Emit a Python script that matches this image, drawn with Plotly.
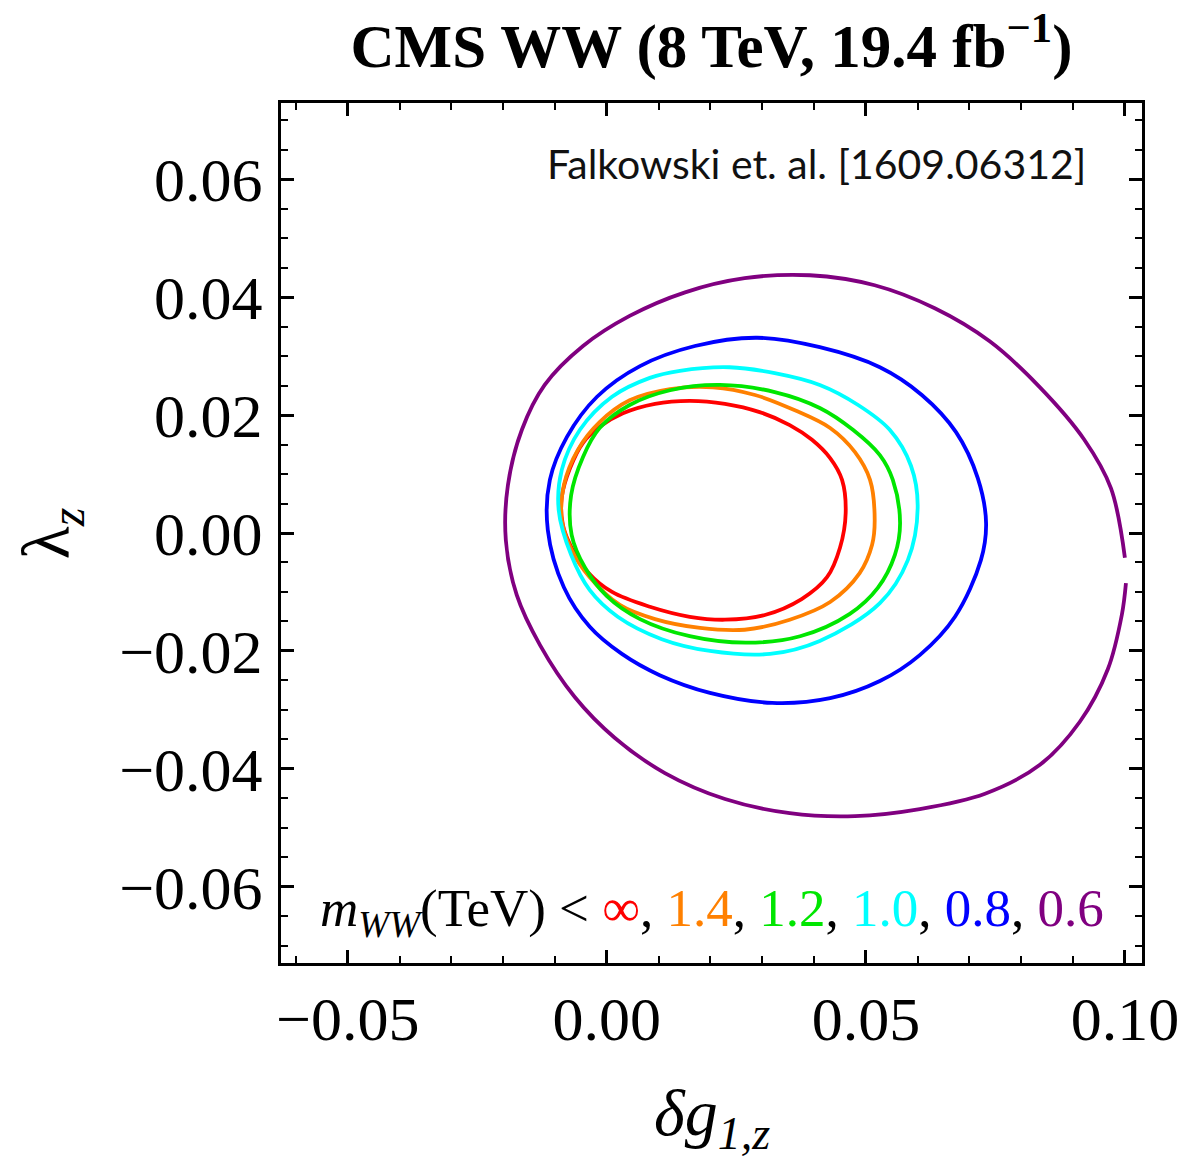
import plotly.graph_objects as go

# ---------------- data ----------------
# contours in the (delta g_1z, lambda_z) plane, one per m_WW cut
red_x = [0.0461, 0.0454, 0.0431, 0.0396, 0.0353, 0.0295, 0.0228, 0.0160, 0.0093, 0.0031,
         -0.0014, -0.0046, -0.0071, -0.0087, -0.0085, -0.0068, -0.0037, 0.0010, 0.0083,
         0.0160, 0.0228, 0.0305, 0.0376, 0.0425, 0.0450]
red_y = [0.0034, 0.0090, 0.0127, 0.0158, 0.0183, 0.0205, 0.0219, 0.0224, 0.0219, 0.0203,
         0.0180, 0.0153, 0.0110, 0.0061, 0.0014, -0.0025, -0.0066, -0.0100, -0.0125,
         -0.0142, -0.0147, -0.0139, -0.0112, -0.0075, -0.0025]

orange_x = [0.0517, 0.0508, 0.0479, 0.0431, 0.0363, 0.0286, 0.0205, 0.0122, 0.0044, -0.0014,
            -0.0056, -0.0083, -0.0087, -0.0068, -0.0033, 0.0025, 0.0093, 0.0180, 0.0266,
            0.0353, 0.0431, 0.0488, 0.0512]
orange_y = [0.0022, 0.0090, 0.0137, 0.0178, 0.0208, 0.0234, 0.0247, 0.0244, 0.0225, 0.0188,
            0.0141, 0.0081, 0.0022, -0.0029, -0.0075, -0.0122, -0.0146, -0.0161, -0.0164,
            -0.0147, -0.0117, -0.0068, -0.0020]

green_x = [0.0566, 0.0552, 0.0527, 0.0475, 0.0411, 0.0324, 0.0218, 0.0122, 0.0044, -0.0014,
           -0.0046, -0.0069, -0.0068, -0.0042, 0.0000, 0.0064, 0.0160, 0.0270, 0.0373,
           0.0469, 0.0523, 0.0556]
green_y = [0.0017, 0.0090, 0.0132, 0.0175, 0.0212, 0.0239, 0.0251, 0.0242, 0.0217, 0.0178,
           0.0129, 0.0064, -0.0003, -0.0059, -0.0107, -0.0146, -0.0175, -0.0186, -0.0175,
           -0.0137, -0.0093, -0.0037]

cyan_x = [0.0600, 0.0587, 0.0546, 0.0485, 0.0411, 0.0324, 0.0237, 0.0141, 0.0083, 0.0010,
          -0.0052, -0.0087, -0.0093, -0.0069, -0.0033, 0.0021, 0.0106, 0.0199, 0.0315,
          0.0411, 0.0527, 0.0581]
cyan_y = [0.0044, 0.0114, 0.0175, 0.0217, 0.0251, 0.0271, 0.0281, 0.0275, 0.0263, 0.0231,
          0.0175, 0.0107, 0.0039, -0.0037, -0.0097, -0.0142, -0.0180, -0.0200, -0.0205,
          -0.0183, -0.0119, -0.0046]

blue_x = [0.0732, 0.0716, 0.0674, 0.0608, 0.0527, 0.0411, 0.0290, 0.0170, 0.0064, -0.0019,
          -0.0077, -0.0110, -0.0114, -0.0083, -0.0033, 0.0029, 0.0102, 0.0199, 0.0319,
          0.0431, 0.0527, 0.0604, 0.0672, 0.0722]
blue_y = [0.0017, 0.0093, 0.0171, 0.0234, 0.0281, 0.0315, 0.0331, 0.0317, 0.0283, 0.0231,
          0.0163, 0.0090, 0.0005, -0.0092, -0.0159, -0.0205, -0.0241, -0.0271, -0.0288,
          -0.0280, -0.0251, -0.0207, -0.0142, -0.0046]

# open contour (gap at the right-hand edge)
purple_x = [0.1000, 0.0973, 0.0921, 0.0836, 0.0739, 0.0633, 0.0517, 0.0392, 0.0266, 0.0151,
            0.0044, -0.0046, -0.0120, -0.0164, -0.0191, -0.0195, -0.0174, -0.0129, -0.0062,
            0.0015, 0.0112, 0.0228, 0.0353, 0.0479, 0.0604, 0.0730, 0.0836, 0.0913, 0.0967,
            0.0994, 0.1002]
purple_y = [-0.0042, 0.0076, 0.0159, 0.0247, 0.0325, 0.0381, 0.0420, 0.0437, 0.0432, 0.0408,
            0.0368, 0.0317, 0.0251, 0.0175, 0.0081, -0.0012, -0.0105, -0.0190, -0.0278,
            -0.0347, -0.0407, -0.0451, -0.0475, -0.0480, -0.0468, -0.0442, -0.0393, -0.0320,
            -0.0231, -0.0139, -0.0085]

cut_labels = ["∞", "1.4", "1.2", "1.0", "0.8", "0.6"]

x_tick_vals = [-0.05, 0.00, 0.05, 0.10]
x_tick_text = ["−0.05", "0.00", "0.05", "0.10"]
y_tick_vals = [-0.06, -0.04, -0.02, 0.00, 0.02, 0.04, 0.06]
y_tick_text = ["−0.06", "−0.04", "−0.02", "0.00", "0.02", "0.04", "0.06"]

# ---------------- figure ----------------
colors = ["#FF0000", "#FF8000", "#00E600", "#00FFFF", "#0000FF", "#800080"]
curves = [(red_x, red_y, True), (orange_x, orange_y, True), (green_x, green_y, True),
          (cyan_x, cyan_y, True), (blue_x, blue_y, True), (purple_x, purple_y, False)]

fig = go.Figure()
for (cx, cy, closed), col in zip(curves, colors):
    xs = cx + cx[:1] if closed else cx
    ys = cy + cy[:1] if closed else cy
    fig.add_trace(go.Scatter(x=xs, y=ys, mode="lines",
                             line=dict(color=col, width=3.8, shape="spline", smoothing=1.0),
                             showlegend=False, hoverinfo="skip"))

serif = "Liberation Serif, Times New Roman, serif"
axis_common = dict(ticks="inside", tickcolor="black", tickwidth=2.5, ticklen=13,
                   showline=True, linecolor="black", linewidth=3, mirror="allticks",
                   showgrid=False, zeroline=False, automargin=False,
                   ticklabeloverflow="allow",
                   tickfont=dict(family=serif, size=62, color="black"))

# page body has an 8px margin, so the figure is 16px smaller than the window
fig.update_layout(
    width=1171, height=1154, autosize=False,
    margin=dict(l=273, r=37, t=95, b=199, autoexpand=False),
    paper_bgcolor="white", plot_bgcolor="white",
    title=dict(text="<b>CMS WW (8 TeV, 19.4 fb<sup>−1</sup>)</b>",
               x=0.5, xref="paper", xanchor="center",
               y=1 - 38 / 1154, yref="container", yanchor="middle",
               font=dict(family=serif, size=61, color="black")),
    xaxis=dict(range=[-0.0629, 0.1033], tickmode="array",
               tickvals=x_tick_vals, ticktext=x_tick_text, ticklabelstandoff=0,
               minor=dict(tickmode="linear", tick0=0, dtick=0.01, ticks="inside",
                          ticklen=7, tickwidth=2, tickcolor="black"),
               **axis_common),
    yaxis=dict(range=[-0.0729, 0.0729], tickmode="array",
               tickvals=y_tick_vals, ticktext=y_tick_text, ticklabelstandoff=3,
               minor=dict(tickmode="linear", tick0=0, dtick=0.005, ticks="inside",
                          ticklen=7, tickwidth=2, tickcolor="black"),
               **axis_common),
)

legend_text = ("<i>m</i><sub><i>WW</i></sub>(TeV) &lt; "
               + ", ".join(f"<span style='color:{c}'>{t}</span>" for t, c in zip(cut_labels, colors)))

fig.add_annotation(text=legend_text, xref="paper", yref="paper", x=0.043, y=0.059,
                   xanchor="left", yanchor="middle", showarrow=False,
                   font=dict(family=serif, size=53, color="black"))
fig.add_annotation(text="Falkowski et. al. [1609.06312]", xref="paper", yref="paper",
                   x=0.937, y=0.930, xanchor="right", yanchor="middle", showarrow=False,
                   font=dict(family="Lato, sans-serif", size=41, color="#111111"))
fig.add_annotation(text="<i>δg</i><sub><i>1,z</i></sub>", xref="paper", yref="paper",
                   x=0.5, y=-0.180, xanchor="center", yanchor="middle", showarrow=False,
                   font=dict(family=serif, size=66, color="black"))
fig.add_annotation(text="λ<sub><i>z</i></sub>", xref="paper", yref="paper",
                   x=-0.268, y=0.5, xanchor="center", yanchor="middle", showarrow=False,
                   textangle=-90, font=dict(family=serif, size=68, color="black"))

fig.write_html("out.html")
